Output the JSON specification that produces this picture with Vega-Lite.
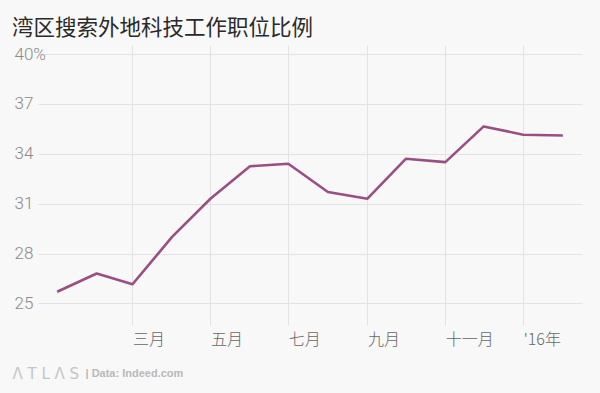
{
  "$schema": "https://vega.github.io/schema/vega-lite/v6.json",
  "width": 544,
  "height": 280,
  "autosize": "none",
  "padding": {"left": 38, "top": 45, "right": 18, "bottom": 68},
  "background": "#f8f8f8",
  "config": {"view": {"stroke": null}},
  "title": {
    "text": "湾区搜索外地科技工作职位比例",
    "anchor": "start",
    "frame": "group",
    "dx": -26,
    "dy": 19,
    "offset": 8,
    "baseline": "alphabetic",
    "font": "Noto Sans CJK SC",
    "fontSize": 21.5,
    "fontWeight": "normal",
    "color": "#2a2a2a"
  },
  "data": {
    "values": [
      {"date": "2015-01-01", "share": 25.7},
      {"date": "2015-02-01", "share": 26.8},
      {"date": "2015-03-01", "share": 26.15},
      {"date": "2015-04-01", "share": 29.0},
      {"date": "2015-05-01", "share": 31.3},
      {"date": "2015-06-01", "share": 33.25},
      {"date": "2015-07-01", "share": 33.4},
      {"date": "2015-08-01", "share": 31.7},
      {"date": "2015-09-01", "share": 31.3},
      {"date": "2015-10-01", "share": 33.7},
      {"date": "2015-11-01", "share": 33.5},
      {"date": "2015-12-01", "share": 35.65},
      {"date": "2016-01-01", "share": 35.15},
      {"date": "2016-02-01", "share": 35.1}
    ]
  },
  "mark": {"type": "line", "color": "#9b4e83", "strokeWidth": 2.6, "strokeJoin": "round"},
  "encoding": {
    "x": {
      "field": "date",
      "type": "temporal",
      "scale": {
        "type": "utc",
        "domain": [
          {"year": 2014, "month": 12, "date": 17, "utc": true},
          {"year": 2016, "month": 2, "date": 16, "utc": true}
        ],
        "nice": false
      },
      "axis": {
        "values": [
          {"year": 2015, "month": 3, "date": 1, "utc": true},
          {"year": 2015, "month": 5, "date": 1, "utc": true},
          {"year": 2015, "month": 7, "date": 1, "utc": true},
          {"year": 2015, "month": 9, "date": 1, "utc": true},
          {"year": 2015, "month": 11, "date": 1, "utc": true},
          {"year": 2016, "month": 1, "date": 1, "utc": true}
        ],
        "labelExpr": "[\"'16年\",'','三月','','五月','','七月','','九月','','十一月',''][utcmonth(datum.value)]",
        "domain": false,
        "ticks": false,
        "grid": true,
        "gridColor": "#e3e3e3",
        "gridWidth": 1,
        "labelAlign": "left",
        "labelBaseline": "top",
        "labelPadding": 6,
        "labelFont": "Noto Sans CJK SC",
        "labelFontSize": 16,
        "labelFontWeight": 300,
        "labelColor": "#666666",
        "labelOverlap": false,
        "labelFlush": false,
        "title": "|   Data: Indeed.com",
        "titleX": 47,
        "titleY": 51,
        "titleAlign": "left",
        "titleAnchor": null,
        "titleBaseline": "alphabetic",
        "titleFont": "Liberation Sans",
        "titleFontSize": 11,
        "titleFontWeight": "bold",
        "titleColor": "#b8b8b8"
      }
    },
    "y": {
      "field": "share",
      "type": "quantitative",
      "scale": {"domain": [23.7, 40.55], "nice": false, "zero": false},
      "axis": {
        "values": [25, 28, 31, 34, 37, 40],
        "labelExpr": "datum.value == 40 ? '40%' : datum.label",
        "domain": false,
        "ticks": false,
        "grid": true,
        "gridColor": "#e3e3e3",
        "gridWidth": 1,
        "labelAlign": "left",
        "labelBaseline": "middle",
        "labelPadding": 24,
        "labelFont": "Roboto",
        "labelFontSize": 17,
        "labelFontWeight": 300,
        "labelColor": "#8a8a8a",
        "title": "Λ T L Λ S",
        "titleAngle": 0,
        "titleX": -26,
        "titleY": 333,
        "titleAlign": "left",
        "titleAnchor": null,
        "titleBaseline": "alphabetic",
        "titleFont": "DejaVu Sans",
        "titleFontSize": 15,
        "titleFontWeight": "normal",
        "titleColor": "#c4c4c4"
      }
    }
  }
}
